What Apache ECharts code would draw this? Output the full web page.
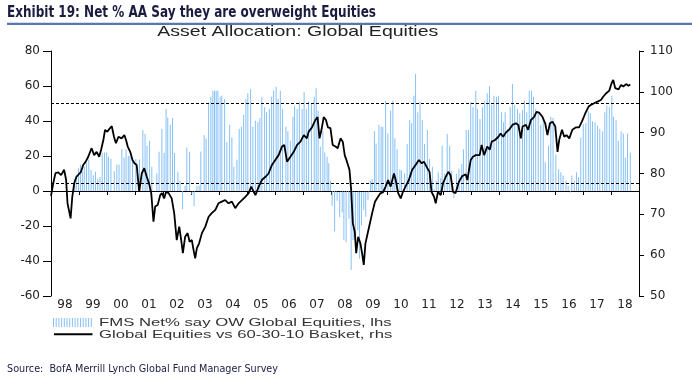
<!DOCTYPE html>
<html><head><meta charset="utf-8">
<script src="https://cdn.jsdelivr.net/npm/echarts@6/dist/echarts.min.js"></script>
<style>html,body{margin:0;padding:0;background:#fff}#c{width:692px;height:383px}</style>
</head><body><div id="c"></div>
<script>
// ---- data ----
const yearLabels = ['98','99','00','01','02','03','04','05','06','07','08','09','10','11','12','13','14','15','16','17','18'];
const leftTicks = {min:-60, max:80, step:20};
const rightTicks = {min:50, max:110, step:10};
const refLevels = [50, 4.6];   // dashed reference lines (lhs)
const zeroLevel = 0;

// FMS Net% say OW Global Equities (lhs), approx monthly
const fmsDates = [1998.83,1998.90,1998.98,1999.05,1999.12,1999.19,1999.27,1999.35,1999.43,1999.51,1999.59,1999.67,1999.75,1999.83,1999.91,1999.99,2000.05,2000.14,2000.26,2000.35,2000.43,2000.53,2000.61,2000.68,2000.76,2000.82,2000.91,2001.03,2001.16,2001.28,2001.36,2001.43,2001.52,2001.60,2001.78,2001.86,2001.96,2002.04,2002.11,2002.17,2002.26,2002.34,2002.41,2002.53,2002.61,2002.70,2002.79,2002.85,2002.95,2003.03,2003.11,2003.21,2003.29,2003.35,2003.47,2003.54,2003.63,2003.71,2003.78,2003.84,2003.90,2003.96,2004.04,2004.10,2004.20,2004.28,2004.38,2004.46,2004.53,2004.64,2004.72,2004.80,2004.88,2004.96,2005.03,2005.13,2005.21,2005.30,2005.39,2005.46,2005.53,2005.63,2005.70,2005.80,2005.88,2005.95,2006.04,2006.11,2006.19,2006.27,2006.39,2006.46,2006.55,2006.64,2006.70,2006.79,2006.87,2006.97,2007.04,2007.12,2007.20,2007.30,2007.40,2007.47,2007.54,2007.62,2007.71,2007.78,2007.86,2007.92,2007.98,2008.04,2008.13,2008.22,2008.31,2008.40,2008.46,2008.54,2008.64,2008.72,2008.79,2008.87,2008.96,2009.02,2009.09,2009.17,2009.24,2009.32,2009.41,2009.47,2009.55,2009.61,2009.71,2009.79,2009.85,2009.95,2010.03,2010.13,2010.21,2010.28,2010.36,2010.46,2010.52,2010.63,2010.72,2010.81,2010.88,2010.96,2011.02,2011.10,2011.18,2011.26,2011.34,2011.44,2011.52,2011.62,2011.68,2011.76,2011.83,2011.92,2011.97,2012.06,2012.15,2012.24,2012.31,2012.39,2012.48,2012.57,2012.67,2012.73,2012.83,2012.91,2012.99,2013.07,2013.17,2013.23,2013.32,2013.41,2013.49,2013.58,2013.66,2013.74,2013.82,2013.91,2013.98,2014.09,2014.16,2014.22,2014.31,2014.40,2014.48,2014.56,2014.66,2014.74,2014.84,2014.91,2014.99,2015.08,2015.16,2015.23,2015.31,2015.40,2015.49,2015.58,2015.65,2015.77,2015.85,2015.93,2016.03,2016.13,2016.21,2016.29,2016.39,2016.47,2016.54,2016.60,2016.69,2016.77,2016.84,2016.92,2017.01,2017.10,2017.19,2017.26,2017.34,2017.43,2017.52,2017.60,2017.70,2017.78,2017.85,2017.94,2018.03,2018.09,2018.18,2018.26,2018.36,2018.44,2018.51,2018.59,2018.69];
const fmsValues = [7,9,13,15,11,14,16,18,12,9,11,7,8,22,22,22,19.6,18.3,11.3,15.2,15.2,23.9,19.2,23.9,20,19.8,16.8,18.3,18,34.9,32.6,25.9,28.7,13.9,10.1,22.5,35.4,21.9,46.9,42,37.9,41.7,21.7,11,5.9,-10.3,3,24.9,22.5,-2,-8.7,3,3,22.6,31.9,30,50.6,53.9,57.3,57.3,57.3,57.3,53.9,54.5,52.6,27.8,37.9,30.6,13.9,17.9,35.6,36.7,43.6,52.6,55.8,58.3,36.7,40.1,39.5,41.7,53.9,47.8,45,46.9,53.9,57.3,59.6,52.6,57.3,46.9,36.7,34.1,28.7,42.5,48.4,46.9,50.8,46.9,56.7,46.9,51.2,49.7,53.9,58.7,45.9,25.3,34.3,22,19.6,15.8,5.9,-8.4,-23.1,-5.5,-15,-12.2,-28,-29.3,-15.9,-45.1,-28,-29,-22.4,-38.5,-19.5,-10.9,-14.7,-5.2,5.9,6.9,34.1,27.2,37.9,36.7,36.7,51.6,32.8,45.9,51.6,30.2,23.9,12.5,11.6,10.1,26.9,40.6,38.7,54.5,66.9,45,50.8,40.6,26.9,34.9,18.3,13.9,1.1,5.9,10.7,7.5,25.9,9.9,32.6,25.9,11.6,-4,9.9,12.8,15.4,23.9,34.9,34.9,50.8,47.8,57.3,46.9,41.1,47.8,51.6,55.8,59.8,49.1,54.5,53.9,54.5,45,39.3,45,35.4,47.8,61.1,49.1,46.9,44.5,46.3,51.6,45,57.3,57.3,53.9,46.9,45,37.9,42.5,16.4,25.9,42.5,41.7,20.8,12.5,10.7,8.8,5.9,3,-0.8,8.8,5.9,10.7,7.9,30.6,38.3,38.7,45.6,44.5,39.8,39.3,37.3,35.4,34.1,45,48.8,47.8,54.5,42.5,40.6,28.7,34.1,32.8,19.2,32.8,22];

// Global Equities vs 60-30-10 Basket (rhs)
const geDates = [1998.00,1998.04,1998.08,1998.16,1998.26,1998.36,1998.41,1998.47,1998.54,1998.59,1998.64,1998.70,1998.76,1998.83,1998.91,1998.98,1999.07,1999.15,1999.24,1999.33,1999.45,1999.54,1999.63,1999.72,1999.79,1999.87,1999.93,2000.01,2000.07,2000.17,2000.25,2000.32,2000.41,2000.52,2000.62,2000.68,2000.74,2000.83,2000.91,2000.98,2001.06,2001.15,2001.24,2001.33,2001.42,2001.50,2001.58,2001.66,2001.72,2001.81,2001.90,2001.96,2002.04,2002.11,2002.20,2002.31,2002.40,2002.49,2002.58,2002.65,2002.71,2002.79,2002.88,2002.95,2003.03,2003.09,2003.15,2003.21,2003.29,2003.39,2003.51,2003.63,2003.74,2003.87,2003.98,2004.10,2004.22,2004.34,2004.46,2004.58,2004.70,2004.82,2004.94,2005.06,2005.15,2005.24,2005.30,2005.42,2005.53,2005.66,2005.77,2005.89,2006.01,2006.13,2006.25,2006.33,2006.43,2006.55,2006.67,2006.79,2006.91,2007.03,2007.14,2007.20,2007.32,2007.44,2007.52,2007.59,2007.66,2007.74,2007.82,2007.89,2007.98,2008.06,2008.16,2008.24,2008.34,2008.42,2008.49,2008.57,2008.66,2008.72,2008.78,2008.85,2008.90,2008.97,2009.05,2009.11,2009.17,2009.23,2009.35,2009.47,2009.57,2009.68,2009.77,2009.85,2009.95,2010.04,2010.13,2010.25,2010.31,2010.40,2010.49,2010.57,2010.66,2010.78,2010.90,2011.02,2011.14,2011.24,2011.32,2011.44,2011.52,2011.59,2011.68,2011.74,2011.82,2011.92,2012.00,2012.10,2012.19,2012.27,2012.36,2012.45,2012.57,2012.69,2012.81,2012.87,2012.93,2012.99,2013.07,2013.17,2013.23,2013.31,2013.38,2013.47,2013.58,2013.67,2013.74,2013.86,2013.98,2014.06,2014.15,2014.24,2014.36,2014.48,2014.60,2014.69,2014.78,2014.84,2014.96,2015.04,2015.14,2015.25,2015.34,2015.43,2015.55,2015.65,2015.73,2015.82,2015.91,2016.01,2016.09,2016.15,2016.25,2016.33,2016.41,2016.51,2016.62,2016.75,2016.86,2016.96,2017.08,2017.20,2017.28,2017.40,2017.52,2017.64,2017.72,2017.82,2017.94,2018.02,2018.08,2018.15,2018.27,2018.36,2018.44,2018.54,2018.62,2018.69];
const geValues = [74.5,76,77.6,80.1,80.3,79.6,79.2,80.9,78.4,72.7,72.3,69,74.3,77.6,79.2,79.6,80.4,82.1,82.9,84.1,86.2,84.5,85.3,84.1,85.8,88.2,90.7,90.2,90.8,91.6,89,87.4,89,88.6,89.4,88.2,86.6,85.3,83.3,82.5,82.1,75.5,80,81.3,79.2,77.6,75.2,68.2,71.9,72.3,74.7,75.2,73.9,75.5,75.2,73.9,70.3,63.7,67,63.7,60.5,64.5,65.4,63.3,63.7,61.3,59.2,61.7,62.9,65.4,67,69.4,70.3,71.1,72.7,73.1,73.5,72.7,73.1,71.5,72.7,73.5,74.3,75.2,76.8,75.5,74.7,76.8,78.4,79.2,80,82.1,83.3,84.5,86.6,87,82.9,84.1,85.3,87,87.8,89.4,88.6,90.2,91.3,93.1,93.8,88.6,90.7,93.8,93.1,91.3,91.1,87,86.6,86.2,88.6,87.8,84.5,82.9,80.9,76,67.8,65.7,60.5,64.5,62.9,60.5,57.6,62.9,66.6,70.3,73.1,74.3,75.2,75.3,76.8,78.4,76.8,80,78.4,75.2,73.9,75.5,76.8,78.4,80.9,82.1,83.3,82.5,82.9,81.3,80.4,75.5,74.3,72.7,75.5,74.7,77.6,79.2,80.4,79.6,75.5,75.2,78,79.4,79.8,78.4,80.9,83.3,84.1,84.5,84.9,84.5,87,84.5,86.6,85.8,87.8,88.2,89,89.8,89,90,90.7,91.9,92.3,91.9,88.6,91.5,91.9,90.7,93.1,93.8,95.1,94.9,93.9,92.3,89.4,92.3,92.7,91.5,85.3,88.2,90.7,89,89.4,88.6,90.7,91.3,91.3,92.7,94.7,96.4,96.8,97.2,97.6,98,98.8,99.6,100.3,102.1,102.9,100.9,100.6,101.7,101.3,101.9,101.5,101.8];

const titleText = 'Exhibit 19: Net % AA Say they are overweight Equities';
const subtitleText = 'Asset Allocation: Global Equities';
const legendBarText = 'FMS Net% say OW Global Equities, lhs';
const legendLineText = 'Global Equities vs 60-30-10 Basket, rhs';
const sourceText = 'Source:  BofA Merrill Lynch Global Fund Manager Survey';

// ---- style / layout ----
const BAR_COLOR = '#86c0f5';
const mctx = document.createElement('canvas').getContext('2d');
function fitScale(text, font, width) { mctx.font = font; return width / mctx.measureText(text).width; }
function stretchedText(text, font, x, y, width, fill) {
  return { type: 'text', x: x, y: y, scaleX: fitScale(text, font, width), silent: true,
    style: { text: text, font: font, fill: fill, align: 'left', verticalAlign: 'middle' } };
}
const F_TITLE = 'bold 15px "Liberation Sans Narrow", "DejaVu Sans Condensed", sans-serif';
const F_SUB = '15px "Liberation Sans", Arial, sans-serif';
const F_LEG = '11px "Liberation Sans", Arial, sans-serif';
const F_SRC = '10px "Liberation Sans Narrow", "DejaVu Sans Condensed", sans-serif';

const legendStripes = [];
for (let i = 0; i < 15; i++) {
  legendStripes.push({ type: 'rect', shape: { x: 53 + i * 2.7, y: 318, width: 1, height: 9 }, style: { fill: BAR_COLOR }, silent: true });
}

const axisFont = { fontFamily: 'DejaVu Sans', fontSize: 12, color: '#222' };
const chart = echarts.init(document.getElementById('c'), null, { renderer: 'canvas' });
chart.setOption({
  animation: false,
  backgroundColor: '#fff',
  grid: { left: 51, right: 53, top: 51, bottom: 87 },
  xAxis: [
    { type: 'category', data: yearLabels, boundaryGap: true, position: 'bottom',
      axisLine: { show: true, lineStyle: { color: '#000', width: 1 } },
      axisTick: { show: true, length: 4, lineStyle: { color: '#000' } },
      axisLabel: Object.assign({ margin: 3, interval: 0 }, axisFont),
      splitLine: { show: false } },
    { type: 'value', min: 1998, max: 2019, show: false, splitLine: { show: false } }
  ],
  yAxis: [
    { type: 'value', min: leftTicks.min, max: leftTicks.max, interval: leftTicks.step, position: 'left',
      axisLine: { show: true, lineStyle: { color: '#000' } },
      axisTick: { show: true, length: 8, lineStyle: { color: '#000' } },
      axisLabel: Object.assign({ margin: 11 }, axisFont), splitLine: { show: false } },
    { type: 'value', min: rightTicks.min, max: rightTicks.max, interval: rightTicks.step, position: 'right',
      axisLine: { show: true, lineStyle: { color: '#000' } },
      axisTick: { show: true, length: 5, lineStyle: { color: '#000' } },
      axisLabel: Object.assign({ margin: 11 }, axisFont), splitLine: { show: false } }
  ],
  series: [
    { name: legendBarText, type: 'bar', xAxisIndex: 1, yAxisIndex: 0, barWidth: 1,
      data: fmsDates.map((d, i) => [d, fmsValues[i]]),
      itemStyle: { color: BAR_COLOR },
      markLine: { silent: true, symbol: 'none', label: { show: false },
        data: [
          { yAxis: zeroLevel, lineStyle: { color: '#000', width: 1, type: [1, 1] } },
          { yAxis: refLevels[0], lineStyle: { color: '#000', width: 1, type: [3, 2] } },
          { yAxis: refLevels[1], lineStyle: { color: '#000', width: 1, type: [3, 2] } }
        ] } },
    { name: legendLineText, type: 'line', xAxisIndex: 1, yAxisIndex: 1, showSymbol: false, symbol: 'none',
      data: geDates.map((d, i) => [d, geValues[i]]),
      lineStyle: { color: '#000', width: 1.8 }, z: 5 }
  ],
  graphic: [
    stretchedText(titleText, F_TITLE, 7, 12.8, 369, '#1b1b40'),
    { type: 'rect', shape: { x: 7, y: 22.7, width: 685, height: 2.3 }, style: { fill: '#5878aa' }, silent: true },
    stretchedText(subtitleText, F_SUB, 157.3, 31.7, 281, '#222'),
    { type: 'group', children: legendStripes },
    { type: 'line', shape: { x1: 54, y1: 334.3, x2: 92.5, y2: 334.3 }, style: { stroke: '#000', lineWidth: 2 }, silent: true },
    stretchedText(legendBarText, F_LEG, 99, 323.3, 292.7, '#333'),
    stretchedText(legendLineText, F_LEG, 99, 334.5, 293.3, '#333'),
    stretchedText(sourceText, F_SRC, 7, 369.7, 271, '#20204a')
  ]
});
</script></body></html>
